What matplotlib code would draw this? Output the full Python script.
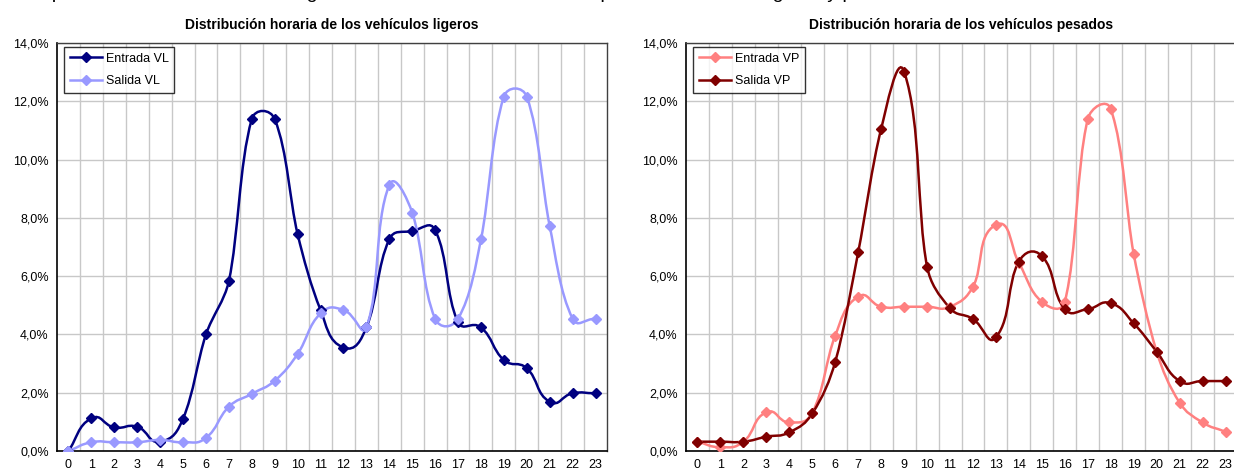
import matplotlib
matplotlib.use("Agg")
import matplotlib.pyplot as plt
import numpy as np
from matplotlib.path import Path
from matplotlib.patches import PathPatch
from matplotlib.lines import Line2D
from matplotlib.ticker import FuncFormatter

plt.rcParams['font.family'] = ['Liberation Sans', 'DejaVu Sans']

# hours of the day
horas = list(range(24))

# light vehicles (%)
entrada_vl = [0.00, 1.12, 0.81, 0.83, 0.32, 1.11, 4.00, 5.83, 11.39, 11.39, 7.44, 4.84,
              3.55, 4.24, 7.26, 7.55, 7.58, 4.42, 4.24, 3.12, 2.84, 1.69, 1.98, 1.98]
salida_vl = [0.00, 0.30, 0.30, 0.30, 0.38, 0.30, 0.45, 1.52, 1.96, 2.41, 3.33, 4.72,
             4.84, 4.24, 9.13, 8.18, 4.54, 4.54, 7.26, 12.16, 12.16, 7.72, 4.54, 4.54]

# heavy vehicles (%)
entrada_vp = [0.32, 0.13, 0.32, 1.33, 0.98, 1.31, 3.96, 5.30, 4.95, 4.95, 4.95, 4.95,
              5.64, 7.76, 6.45, 5.12, 5.12, 11.39, 11.74, 6.76, 3.41, 1.66, 0.98, 0.66]
salida_vp = [0.32, 0.32, 0.32, 0.49, 0.64, 1.29, 3.06, 6.82, 11.05, 13.02, 6.33, 4.90,
             4.53, 3.90, 6.50, 6.69, 4.87, 4.87, 5.07, 4.38, 3.41, 2.40, 2.40, 2.40]

titulos = ["Distribución horaria de los vehículos ligeros",
           "Distribución horaria de los vehículos pesados"]

W, H = 1234, 475
fig = plt.figure(figsize=(W / 100, H / 100), dpi=100)


def handle_len(L):
    # shorter handles on long (steep) segments
    return 0.5 * min(L, 23) + 0.25 * max(L - 23, 0)


def smooth_path(x, y, sx, sy):
    # bezier smoothing like the spreadsheet "smoothed line",
    # worked out in pixel space
    p = np.column_stack([np.asarray(x, float) * sx, np.asarray(y, float) * sy])
    n = len(p)
    tang = []
    for i in range(n):
        if i == 0:
            d = p[1] - p[0]
        elif i == n - 1:
            d = p[-1] - p[-2]
        else:
            d = p[i + 1] - p[i - 1]
        tang.append(d / np.hypot(*d))
    verts = [p[0]]
    codes = [Path.MOVETO]
    for i in range(n - 1):
        h = handle_len(np.hypot(*(p[i + 1] - p[i])))
        verts += [p[i] + tang[i] * h, p[i + 1] - tang[i + 1] * h, p[i + 1]]
        codes += [Path.CURVE4] * 3
    verts = np.array(verts)
    verts[:, 0] /= sx
    verts[:, 1] /= sy
    return Path(verts, codes)


def draw_panel(rect, series, title):
    ax = fig.add_axes(rect)
    ax.set_xlim(-0.5, 23.5)
    ax.set_ylim(0, 14)
    ax.set_yticks(np.arange(0, 15, 2))
    ax.yaxis.set_major_formatter(FuncFormatter(lambda v, p: f"{v:.1f}%".replace(".", ",")))
    ax.set_xticks(horas)
    ax.set_xticks(np.arange(0.5, 23, 1), minor=True)
    ax.tick_params(axis='x', which='both', length=0, labelsize=9, pad=6)
    ax.tick_params(axis='y', length=0, labelsize=9, pad=6)
    ax.grid(axis='y', which='major', color='#c8c8c8', lw=1)
    ax.grid(axis='x', which='minor', color='#c8c8c8', lw=1)
    ax.set_axisbelow(True)
    for s in ['top', 'right']:
        ax.spines[s].set_color('#404040')
        ax.spines[s].set_linewidth(1)
    for s in ['left', 'bottom']:
        ax.spines[s].set_color('black')
        ax.spines[s].set_linewidth(1.2)
    ax.set_title(title, fontsize=10, fontweight='bold', pad=10)

    pos = ax.get_position()
    sx = pos.width * W / 24.0
    sy = pos.height * H / 14.0
    handles = []
    for vals, color, label in series:
        ax.add_patch(PathPatch(smooth_path(horas, vals, sx, sy), fill=False,
                               edgecolor=color, lw=1.8, zorder=3))
        ax.plot(horas, vals, linestyle='none', marker='D', ms=5, color=color, zorder=4)
        handles.append(Line2D([], [], color=color, lw=1.8, marker='D', ms=5))
    leg = ax.legend(handles, [s[2] for s in series], loc='upper left',
                    bbox_to_anchor=(7 / 550, 1 - 4 / 408), borderaxespad=0,
                    fontsize=9, frameon=True, fancybox=False, edgecolor='black',
                    handlelength=2.6, borderpad=0.45, labelspacing=0.85,
                    handletextpad=0.3)
    leg.get_frame().set_linewidth(1)
    return ax


draw_panel([57 / W, 24 / H, 550 / W, 408 / H],
           [(entrada_vl, '#000080', 'Entrada VL'), (salida_vl, '#9999ff', 'Salida VL')],
           titulos[0])
draw_panel([686 / W, 24 / H, 551 / W, 408 / H],
           [(entrada_vp, '#ff8080', 'Entrada VP'), (salida_vp, '#800000', 'Salida VP')],
           titulos[1])

# line of text above the charts, cut off by the top edge as in the source
fig.text(0.004, 1 + 2.5 / H,
         "Se representan a continuación las gráficas de la distribución horaria para los vehículos ligeros y pesados",
         fontsize=14, va='baseline', ha='left')

fig.savefig("out.png", dpi=100)
